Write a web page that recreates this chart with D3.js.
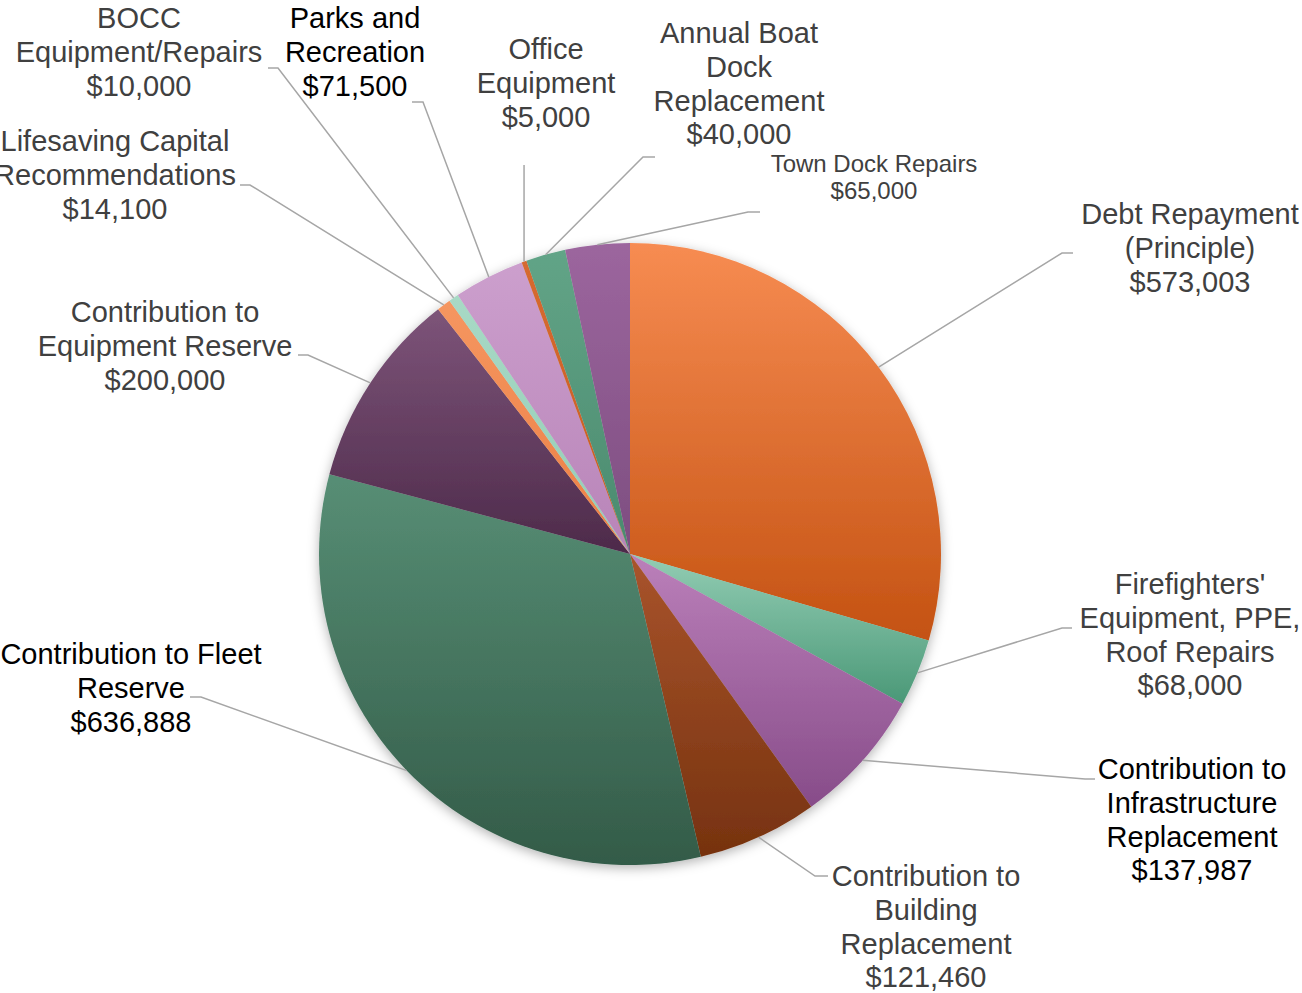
<!DOCTYPE html>
<html>
<head>
<meta charset="utf-8">
<script src="https://cdn.jsdelivr.net/npm/d3@7"></script>
<style>
  html, body { margin: 0; padding: 0; background: #fff; }
  svg { display: block; }
</style>
</head>
<body>
<div id="chart"></div>
<script>
// slice data, clockwise from 12 o'clock
const categories = [
  "Debt Repayment (Principle)",
  "Firefighters' Equipment, PPE, Roof Repairs",
  "Contribution to Infrastructure Replacement",
  "Contribution to Building Replacement",
  "Contribution to Fleet Reserve",
  "Contribution to Equipment Reserve",
  "Lifesaving Capital Recommendations",
  "BOCC Equipment/Repairs",
  "Parks and Recreation",
  "Office Equipment",
  "Annual Boat Dock Replacement",
  "Town Dock Repairs"
];
const values = [573003, 68000, 137987, 121460, 636888, 200000, 14100, 10000, 71500, 5000, 40000, 65000];

// label text as it wraps in the chart
const labelLines = [
  ["Debt Repayment", "(Principle)"],
  ["Firefighters'", "Equipment, PPE,", "Roof Repairs"],
  ["Contribution to", "Infrastructure", "Replacement"],
  ["Contribution to", "Building", "Replacement"],
  ["Contribution to Fleet", "Reserve"],
  ["Contribution to", "Equipment Reserve"],
  ["Lifesaving Capital", "Recommendations"],
  ["BOCC", "Equipment/Repairs"],
  ["Parks and", "Recreation"],
  ["Office", "Equipment"],
  ["Annual Boat", "Dock", "Replacement"],
  ["Town Dock Repairs"]
];

const width = 1302;
const height = 993;
const cx = 630, cy = 554, radius = 311;

// gradient colours per slice [top, bottom]
const palette = [
  ["#f78c52", "#c45212"],
  ["#93cdb4", "#4a9877"],
  ["#bb80ba", "#874c89"],
  ["#a9542c", "#76320f"],
  ["#578e75", "#335b48"],
  ["#7d5479", "#4d2a4a"],
  ["#f59660", "#ec7f45"],
  ["#a8d9c5", "#94cdb6"],
  ["#cc9fcd", "#b884b8"],
  ["#d66a30", "#c85c22"],
  ["#62a487", "#4a8a6e"],
  ["#9c669e", "#7d4d80"]
];
const blackLabels = [2, 4, 8];

// label layout: anchor x, first baseline, font size, line height, elbow and end of leader
const layout = [
  { x: 1190, y: 224, fs: 29, lh: 33.8, elbow: [1062, 253], end: [1073, 253] },
  { x: 1190, y: 594, fs: 29, lh: 33.8, elbow: [1062, 628], end: [1072, 628] },
  { x: 1192, y: 779, fs: 29, lh: 33.8, elbow: [1085, 779], end: [1095, 779] },
  { x: 926, y: 886, fs: 29, lh: 33.8, elbow: [815, 876], end: [828, 876] },
  { x: 131, y: 664, fs: 29, lh: 33.8, elbow: [201, 697], end: [190, 697] },
  { x: 165, y: 322, fs: 29, lh: 33.8, elbow: [308, 355], end: [298, 355] },
  { x: 115, y: 151, fs: 29, lh: 33.8, elbow: [250, 185], end: [240, 185] },
  { x: 139, y: 28, fs: 29, lh: 33.8, elbow: [278, 68], end: [268, 68] },
  { x: 355, y: 28, fs: 29, lh: 33.8, elbow: [423, 102], end: [412, 102] },
  { x: 546, y: 59, fs: 29, lh: 33.8, elbow: null, end: [524, 165] },
  { x: 739, y: 43, fs: 29, lh: 33.8, elbow: [643, 157], end: [655, 157] },
  { x: 874, y: 172, fs: 24, lh: 26.5, elbow: [748, 212], end: [760, 212] }
];

const fmt = d3.format("$,");

const svg = d3.select("#chart")
              .append("svg")
              .attr("width", width)
              .attr("height", height);

const defs = svg.append("defs");

palette.forEach((c, i) => {
  const g = defs.append("linearGradient")
                .attr("id", "grad" + i)
                .attr("x1", 0).attr("y1", 0)
                .attr("x2", 0).attr("y2", 1);
  g.append("stop").attr("offset", "0%").attr("stop-color", c[0]);
  g.append("stop").attr("offset", "100%").attr("stop-color", c[1]);
});

const shadow = defs.append("filter")
                   .attr("id", "shadow")
                   .attr("x", "-10%").attr("y", "-10%")
                   .attr("width", "120%").attr("height", "120%");
shadow.append("feDropShadow")
      .attr("dx", 0).attr("dy", 3)
      .attr("stdDeviation", 6)
      .attr("flood-color", "#000")
      .attr("flood-opacity", 0.3);

const data = categories.map((c, i) => ({ name: c, value: values[i], i: i }));

const pie = d3.pie()
              .sort(null)
              .value(d => d.value);

const arc = d3.arc()
              .innerRadius(0)
              .outerRadius(radius);

const arcs = pie(data);

const g = svg.append("g")
             .attr("transform", "translate(" + cx + "," + cy + ")");

g.append("g")
 .attr("filter", "url(#shadow)")
 .selectAll("path")
 .data(arcs)
 .enter()
 .append("path")
 .attr("d", arc)
 .attr("fill", d => "url(#grad" + d.data.i + ")");

// leader lines from the middle of each slice's outer edge
svg.append("g")
   .selectAll("polyline")
   .data(arcs)
   .enter()
   .append("polyline")
   .attr("points", d => {
     const a = (d.startAngle + d.endAngle) / 2;
     const p0 = [cx + radius * Math.sin(a), cy - radius * Math.cos(a)];
     const L = layout[d.data.i];
     const pts = [p0];
     if (L.elbow) pts.push(L.elbow, L.end);
     else pts.push([p0[0], L.end[1]]);
     return pts.map(p => p.join(",")).join(" ");
   })
   .attr("fill", "none")
   .attr("stroke", "#a6a6a6")
   .attr("stroke-width", 1.5);

const labels = svg.append("g")
                  .style("font-family", "'Liberation Sans', Arial, sans-serif");

data.forEach((d, i) => {
  const L = layout[i];
  const lines = labelLines[i].concat([fmt(d.value)]);
  const t = labels.append("text")
                  .attr("text-anchor", "middle")
                  .style("font-size", L.fs + "px")
                  .attr("fill", blackLabels.includes(i) ? "#000" : "#404040");
  lines.forEach((s, k) => {
    t.append("tspan")
     .attr("x", L.x)
     .attr("y", L.y + k * L.lh)
     .text(s);
  });
});
</script>
</body>
</html>
